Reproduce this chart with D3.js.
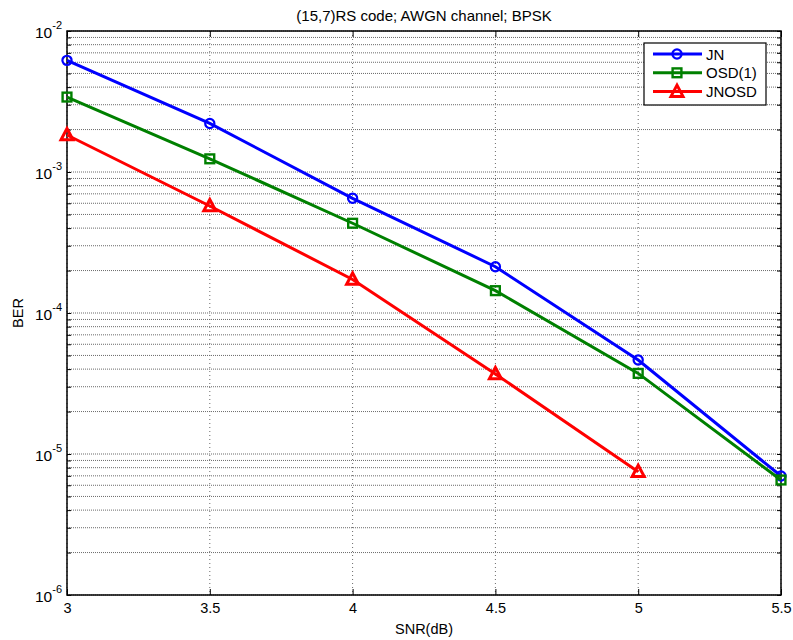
<!DOCTYPE html>
<html><head><meta charset="utf-8">
<script src="https://cdn.jsdelivr.net/npm/d3@7"></script>
<style>body{margin:0;background:#fff;} text{font-family:"Liberation Sans",Arial,sans-serif;}</style>
</head><body>
<svg id="c" width="793" height="640"></svg>
<script>
const snr = [3, 3.5, 4, 4.5, 5, 5.5];
const berJN = [6.19e-3, 2.21e-3, 6.51e-4, 2.13e-4, 4.64e-5, 6.98e-6];
const berOSD = [3.40e-3, 1.24e-3, 4.33e-4, 1.44e-4, 3.73e-5, 6.54e-6];
const snrJNOSD = [3, 3.5, 4, 4.5, 5];
const berJNOSD = [1.83e-3, 5.74e-4, 1.73e-4, 3.69e-5, 7.49e-6];
const xTicks = [3, 3.5, 4, 4.5, 5, 5.5];
const yMajor = [-2, -3, -4, -5, -6];
const seriesNames = ["JN", "OSD(1)", "JNOSD"];
const title = "(15,7)RS code; AWGN channel; BPSK";

const L = 67, R = 781, T = 31, B = 595;
const svg = d3.select("#c");
const x = d3.scaleLinear().domain([3, 5.5]).range([L, R]);
const y = d3.scaleLog().domain([1e-6, 1e-2]).range([B, T]);

// grid
const minor = [];
for (let e = -6; e < -2; e++) for (let m = 1; m <= 9; m++) minor.push(m * Math.pow(10, e));
minor.push(1e-2);
const g = svg.append("g");
g.selectAll("line.hy").data(minor).join("line")
  .attr("x1", L).attr("x2", R).attr("y1", d => y(d)).attr("y2", d => y(d))
  .attr("stroke", "#6a6a6a").attr("stroke-width", 1).attr("stroke-dasharray", "1,1");
g.selectAll("line.vx").data(xTicks).join("line")
  .attr("y1", T).attr("y2", B).attr("x1", d => x(d)).attr("x2", d => x(d))
  .attr("stroke", "#6a6a6a").attr("stroke-width", 1).attr("stroke-dasharray", "1,3");

// axes with inward ticks
const ax = svg.append("g");
ax.append("g").attr("transform", `translate(0,${B})`)
  .call(d3.axisBottom(x).tickValues(xTicks).tickSize(-6).tickPadding(8).tickFormat(d3.format("")))
  .call(s => { s.select(".domain").remove(); s.selectAll("text").attr("font-size", 14.5).attr("fill", "#000"); });
ax.append("g").attr("transform", `translate(0,${T})`)
  .call(d3.axisTop(x).tickValues(xTicks).tickSize(-6).tickFormat(""))
  .call(s => s.select(".domain").remove());
ax.append("g").attr("transform", `translate(${L},0)`)
  .call(d3.axisLeft(y).tickValues(minor).tickSize(-4).tickFormat(""))
  .call(s => s.select(".domain").remove());
ax.append("g").attr("transform", `translate(${R},0)`)
  .call(d3.axisRight(y).tickValues(minor).tickSize(-4).tickFormat(""))
  .call(s => s.select(".domain").remove());
ax.selectAll(".tick line").attr("stroke", "#000");
ax.append("rect").attr("x", L).attr("y", T).attr("width", R - L).attr("height", B - T)
  .attr("fill", "none").attr("stroke", "#000").attr("stroke-width", 1.5);

// y major labels 10^e
yMajor.forEach(e => {
  const t = svg.append("text").attr("x", L - 5).attr("y", y(Math.pow(10, e)) + 6.5)
    .attr("text-anchor", "end").attr("font-size", 15.5).attr("fill", "#000");
  t.append("tspan").text("10");
  t.append("tspan").attr("dy", -9).attr("font-size", 11).text(String(e));
});

// series
const line = d3.line().x(d => x(d[0])).y(d => y(d[1]));
const series = [
  {xs: snr, ys: berJN, color: "#0000ff", m: "circle"},
  {xs: snr, ys: berOSD, color: "#008000", m: "square"},
  {xs: snrJNOSD, ys: berJNOSD, color: "#ff0000", m: "triangle"}
];
function marker(sel, m, color) {
  if (m === "circle") sel.append("circle").attr("r", 4.6).attr("fill", "none").attr("stroke", color).attr("stroke-width", 2.2);
  else if (m === "square") sel.append("rect").attr("x", -4.4).attr("y", -4.4).attr("width", 8.8).attr("height", 8.8).attr("fill", "none").attr("stroke", color).attr("stroke-width", 2.4);
  else sel.append("path").attr("d", "M0,-6.5L6,4.8L-6,4.8Z").attr("fill", "none").attr("stroke", color).attr("stroke-width", 3).attr("stroke-linejoin", "miter");
}
series.forEach(s => {
  const pts = s.xs.map((v, i) => [v, s.ys[i]]);
  svg.append("path").datum(pts).attr("d", line).attr("fill", "none").attr("stroke", s.color).attr("stroke-width", 3);
  pts.forEach(p => {
    const gg = svg.append("g").attr("transform", `translate(${x(p[0])},${y(p[1])})`);
    marker(gg, s.m, s.color);
  });
});

// title & labels
svg.append("text").attr("x", (L + R) / 2).attr("y", 21).attr("text-anchor", "middle").attr("font-size", 15).text(title);
svg.append("text").attr("x", (L + R) / 2).attr("y", 634).attr("text-anchor", "middle").attr("font-size", 14.5).text("SNR(dB)");
svg.append("text").attr("transform", `translate(23,${(T + B) / 2}) rotate(-90)`).attr("text-anchor", "middle").attr("font-size", 14.5).text("BER");

// legend
const lg = svg.append("g");
lg.append("rect").attr("x", 644).attr("y", 43).attr("width", 122).attr("height", 62).attr("fill", "#fff").attr("stroke", "#000").attr("stroke-width", 1.2);
seriesNames.forEach((n, i) => {
  const ly = 54 + i * 18.8;
  lg.append("line").attr("x1", 653).attr("x2", 702).attr("y1", ly).attr("y2", ly).attr("stroke", series[i].color).attr("stroke-width", 3);
  const mg = lg.append("g").attr("transform", `translate(677,${ly})`);
  marker(mg, series[i].m, series[i].color);
  lg.append("text").attr("x", 706).attr("y", ly + 5.5).attr("font-size", 15).text(n);
});
</script>
</body></html>
